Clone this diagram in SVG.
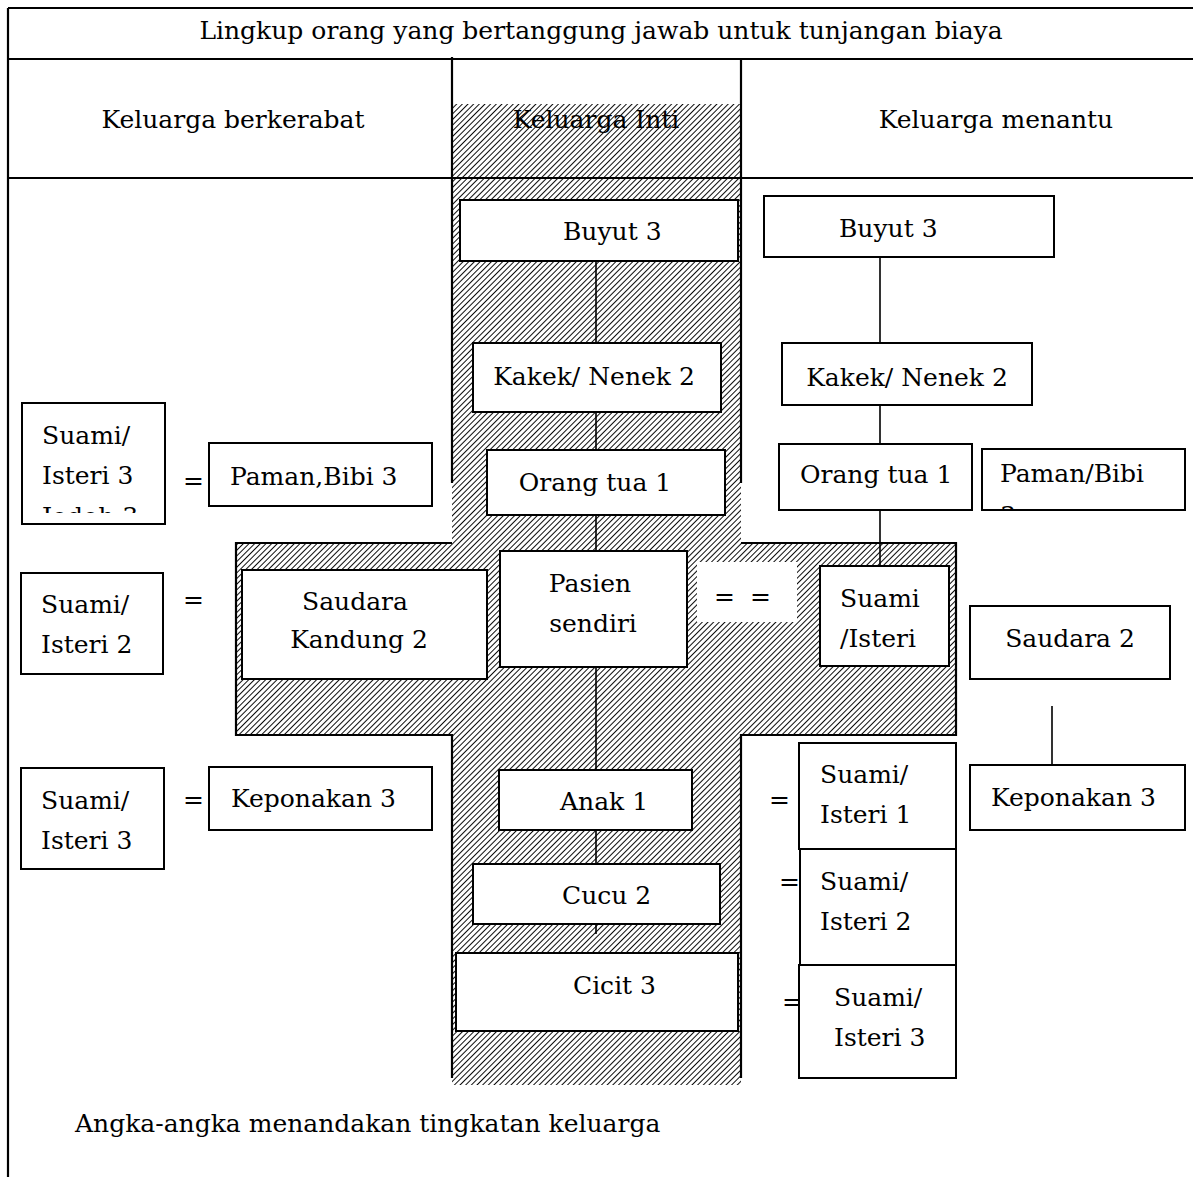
<svg xmlns="http://www.w3.org/2000/svg" width="1193" height="1177" viewBox="0 0 1193 1177">
<style>
  .t { font-family: "DejaVu Serif", "Liberation Serif", serif; font-size: 25px; fill: #000; }
  .m { text-anchor: middle; }
  .box { fill: #fff; stroke: #000; stroke-width: 2; }
  .ln { fill: none; stroke: #000; stroke-width: 2.2; }
  .cn { fill: none; stroke: #000; stroke-width: 1.6; }
</style>
<defs>
  <pattern id="hatch" width="4" height="4" patternUnits="userSpaceOnUse" patternTransform="rotate(45)">
    <rect width="4" height="4" fill="#fff"/>
    <line x1="0" y1="0" x2="0" y2="4" stroke="#000" stroke-width="1.9"/>
  </pattern>
  <clipPath id="clipJodoh"><rect x="22" y="403" width="143" height="110"/></clipPath>
  <clipPath id="clipPaman"><rect x="982" y="449" width="203" height="60"/></clipPath>
</defs>
<rect width="1193" height="1177" fill="#fff"/>

<g id="hatch-area">
  <rect x="452" y="104" width="289" height="981" fill="url(#hatch)"/>
  <rect x="236" y="543" width="720" height="192" fill="url(#hatch)"/>
</g>

<g id="table">
  <path class="ln" d="M8,8 H1193 M8,59 H1193 M8,178 H1193 M8,8 V1177"/>
  <path class="ln" d="M452,57 V483 M741,60 V483"/>
  <path class="ln" d="M452,543 H236 V735 H452 V1078 M741,543 H956 V735 H741 V1078"/>
  <text class="t m" x="601" y="39">Lingkup orang yang bertanggung jawab untuk tunjangan biaya</text>
  <text class="t m" x="233" y="128">Keluarga berkerabat</text>
  <text class="t m" x="596" y="128">Keluarga Inti</text>
  <text class="t m" x="996" y="128">Keluarga menantu</text>
</g>

<g id="connectors">
  <path class="cn" d="M596,261 V343 M596,412 V450 M596,515 V551 M596,667 V770 M596,830 V864 M596,924 V934"/>
  <path class="cn" d="M880,257 V343 M880,405 V444 M880,510 V566 M1052,706 V765"/>
</g>

<g id="equals">
  <rect x="697" y="562" width="100" height="60" fill="#fff"/>
  <text class="t" x="714" y="605">=</text>
  <text class="t" x="750" y="605">=</text>
  <text class="t" x="183" y="489">=</text>
  <text class="t" x="183" y="608">=</text>
  <text class="t" x="183" y="808">=</text>
  <text class="t" x="769" y="808">=</text>
  <text class="t" x="779" y="890">=</text>
  <text class="t" x="782" y="1010">=</text>
</g>

<g id="n-buyut-inti"><rect class="box" x="460" y="200" width="278" height="61"/><text class="t" x="563" y="240">Buyut 3</text></g>
<g id="n-kakek-inti"><rect class="box" x="473" y="343" width="248" height="69"/><text class="t m" x="594" y="385">Kakek/ Nenek 2</text></g>
<g id="n-ortu-inti"><rect class="box" x="487" y="450" width="238" height="65"/><text class="t m" x="595" y="491">Orang tua 1</text></g>
<g id="n-pasien"><rect class="box" x="500" y="551" width="187" height="116"/><text class="t m" x="590" y="592">Pasien</text><text class="t m" x="593" y="632">sendiri</text></g>
<g id="n-anak"><rect class="box" x="499" y="770" width="193" height="60"/><text class="t" x="560" y="810">Anak 1</text></g>
<g id="n-cucu"><rect class="box" x="473" y="864" width="247" height="60"/><text class="t" x="562" y="904">Cucu 2</text></g>
<g id="n-cicit"><rect class="box" x="456" y="953" width="282" height="78"/><text class="t" x="573" y="994">Cicit 3</text></g>

<g id="n-buyut-menantu"><rect class="box" x="764" y="196" width="290" height="61"/><text class="t" x="839" y="237">Buyut 3</text></g>
<g id="n-kakek-menantu"><rect class="box" x="782" y="343" width="250" height="62"/><text class="t m" x="907" y="386">Kakek/ Nenek 2</text></g>
<g id="n-ortu-menantu"><rect class="box" x="779" y="444" width="193" height="66"/><text class="t" x="800" y="483">Orang tua 1</text></g>
<g id="n-paman-menantu"><rect class="box" x="982" y="449" width="203" height="61"/><g clip-path="url(#clipPaman)"><text class="t" x="1000" y="482">Paman/Bibi</text><text class="t" x="1000" y="524">3</text></g></g>
<g id="n-suami-pasien"><rect class="box" x="820" y="566" width="129" height="100"/><text class="t" x="840" y="607">Suami</text><text class="t" x="840" y="647">/Isteri</text></g>
<g id="n-saudara-menantu"><rect class="box" x="970" y="606" width="200" height="73"/><text class="t m" x="1070" y="647">Saudara 2</text></g>
<g id="n-keponakan-menantu"><rect class="box" x="970" y="765" width="215" height="65"/><text class="t" x="991" y="806">Keponakan 3</text></g>
<g id="n-suami1"><rect class="box" x="799" y="743" width="157" height="106"/><text class="t" x="820" y="783">Suami/</text><text class="t" x="820" y="823">Isteri 1</text></g>
<g id="n-suami2"><rect class="box" x="800" y="849" width="156" height="116"/><text class="t" x="820" y="890">Suami/</text><text class="t" x="820" y="930">Isteri 2</text></g>
<g id="n-suami3"><rect class="box" x="799" y="965" width="157" height="113"/><text class="t" x="834" y="1006">Suami/</text><text class="t" x="834" y="1046">Isteri 3</text></g>

<g id="n-jodoh"><rect class="box" x="22" y="403" width="143" height="121"/><g clip-path="url(#clipJodoh)"><text class="t" x="42" y="444">Suami/</text><text class="t" x="42" y="484">Isteri 3</text><text class="t" x="42" y="525">Jodoh 3</text></g></g>
<g id="n-paman-kerabat"><rect class="box" x="209" y="443" width="223" height="63"/><text class="t" x="230" y="485">Paman,Bibi 3</text></g>
<g id="n-suami-saudara"><rect class="box" x="21" y="573" width="142" height="101"/><text class="t" x="41" y="613">Suami/</text><text class="t" x="41" y="653">Isteri 2</text></g>
<g id="n-saudara-kandung"><rect class="box" x="242" y="570" width="245" height="109"/><text class="t m" x="355" y="610">Saudara</text><text class="t m" x="359" y="648">Kandung 2</text></g>
<g id="n-suami-keponakan"><rect class="box" x="21" y="768" width="143" height="101"/><text class="t" x="41" y="809">Suami/</text><text class="t" x="41" y="849">Isteri 3</text></g>
<g id="n-keponakan-kerabat"><rect class="box" x="209" y="767" width="223" height="63"/><text class="t" x="231" y="807">Keponakan 3</text></g>

<text class="t" x="75" y="1132">Angka-angka menandakan tingkatan keluarga</text>
</svg>
